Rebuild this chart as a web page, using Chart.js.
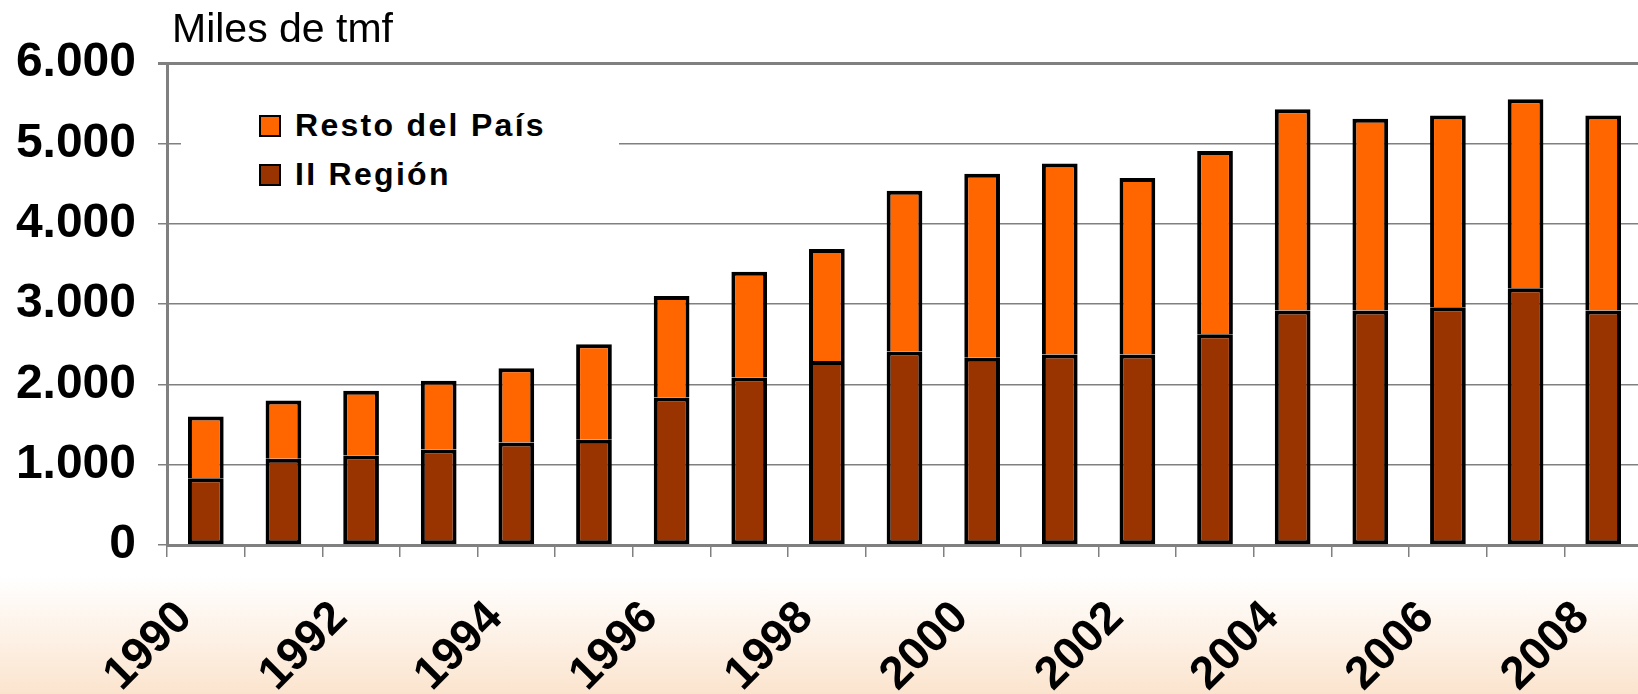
<!DOCTYPE html>
<html>
<head>
<meta charset="utf-8">
<script src="https://cdn.jsdelivr.net/npm/chart.js@4"></script>
<style>
    html, body { margin: 0; padding: 0; }
    body {
        width: 1638px; height: 694px; overflow: hidden; position: relative;
        background: linear-gradient(to bottom, #ffffff 0%, #ffffff 83%, #fbe4ce 100%);
        font-family: "Liberation Sans", Arial, sans-serif;
    }
    #wrap { position: absolute; left: 0; top: 0; width: 1642px; height: 694px; }
    #legend {
        position: absolute; left: 181px; top: 96px; width: 438px; height: 104px;
        background: #ffffff;
    }
    .item {
        position: absolute; left: 78px; font-weight: bold; font-size: 32px;
        letter-spacing: 2.3px; color: #000; white-space: nowrap;
    }
    .item span.box {
        display: inline-block; width: 18px; height: 18px; border: 2px solid #000;
        margin-right: 14px; vertical-align: -1px;
    }
</style>
</head>
<body>
<div id="wrap"><canvas id="chart" width="1642" height="694"></canvas></div>
<div id="legend">
    <div class="item" style="top: 11px;"><span class="box" style="background:#ff6600"></span>Resto del País</div>
    <div class="item" style="top: 60px;"><span class="box" style="background:#993300"></span>II Región</div>
</div>
<script>
const years = ["1990", "1991", "1992", "1993", "1994", "1995", "1996", "1997", "1998", "1999",
               "2000", "2001", "2002", "2003", "2004", "2005", "2006", "2007", "2008"];
const segundaRegion = [830, 1075, 1115, 1190, 1275, 1310, 1835, 2085, 2290, 2410,
                       2330, 2370, 2370, 2625, 2920, 2920, 2960, 3195, 2920];
const restoPais = [770, 725, 805, 855, 925, 1190, 1265, 1315, 1395, 2000,
                   2290, 2380, 2200, 2280, 2505, 2385, 2385, 2355, 2425];
const yTicks = [0, 1000, 2000, 3000, 4000, 5000, 6000];

const titlePlugin = {
    id: 'unitTitle',
    afterDraw(chart) {
        const c = chart.ctx;
        c.save();
        c.font = '41px "Liberation Sans", Arial, sans-serif';
        c.fillStyle = '#000';
        c.textBaseline = 'alphabetic';
        c.fillText('Miles de tmf', 172, 42);
        c.restore();
    }
};

const ctx = document.getElementById("chart");
const chart = new Chart(ctx, {
    type: 'bar',
    data: {
        labels: years,
        datasets: [{
            label: "II Región",
            data: segundaRegion,
            backgroundColor: "#993300",
            borderColor: "#000000",
            borderWidth: 4,
            borderSkipped: false
        }, {
            label: "Resto del País",
            data: restoPais,
            backgroundColor: "#ff6600",
            borderColor: "#000000",
            borderWidth: 4,
            borderSkipped: 'bottom'
        }]
    },
    options: {
        responsive: false,
        animation: false,
        layout: { padding: { top: 63, right: 0, left: 0, bottom: 0 } },
        datasets: { bar: { categoryPercentage: 1, barPercentage: 0.46 } },
        plugins: {
            legend: { display: false },
            tooltip: { enabled: false }
        },
        scales: {
            x: {
                stacked: true,
                grid: { drawOnChartArea: false, color: '#808080', lineWidth: 1.5, tickLength: 12 },
                border: { color: '#808080', width: 3 },
                ticks: {
                    autoSkip: false,
                    maxRotation: 45,
                    minRotation: 45,
                    padding: 34,
                    labelOffset: -21,
                    color: '#000',
                    font: { family: '"Liberation Sans", Arial, sans-serif', size: 46, weight: 'bold' },
                    callback: (v, i) => i % 2 === 0 ? years[i] : ''
                },
                afterFit(scale) {
                    scale.height = 149;
                    scale.paddingLeft = 0;
                    scale.paddingRight = 0;
                }
            },
            y: {
                stacked: true,
                min: 0,
                max: 6000,
                afterBuildTicks(scale) { scale.ticks = yTicks.map(v => ({ value: v })); },
                grid: {
                    color: '#808080',
                    lineWidth: c => c.tick && c.tick.value === 6000 ? 3 : 1.5,
                    tickLength: 9
                },
                border: { color: '#808080', width: 3 },
                ticks: {
                    padding: 22,
                    color: '#000',
                    font: { family: '"Liberation Sans", Arial, sans-serif', size: 48, weight: 'bold' },
                    callback: v => String(v).replace(/\B(?=(\d{3})+(?!\d))/g, '.')
                },
                afterFit(scale) { scale.width = 167; }
            }
        }
    },
    plugins: [titlePlugin]
});
</script>
</body>
</html>
